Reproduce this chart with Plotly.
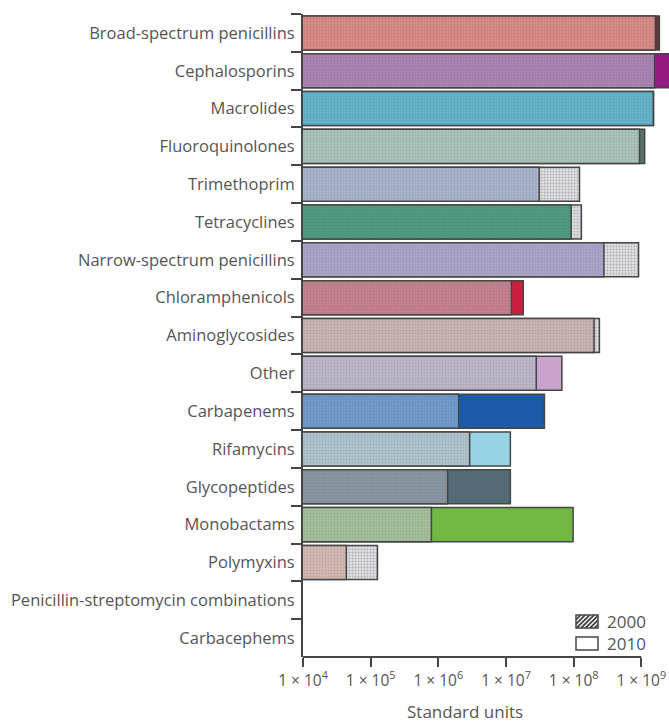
import plotly.graph_objects as go

# Antibiotic classes, top to bottom
categories = [
    "Broad-spectrum penicillins", "Cephalosporins", "Macrolides", "Fluoroquinolones",
    "Trimethoprim", "Tetracyclines", "Narrow-spectrum penicillins", "Chloramphenicols",
    "Aminoglycosides", "Other", "Carbapenems", "Rifamycins", "Glycopeptides",
    "Monobactams", "Polymyxins", "Penicillin-streptomycin combinations", "Carbacephems",
]

# Consumption in standard units
units_2000 = [1.61e9, 1.57e9, 1.50e9, 9.4e8, 1.22e8, 1.30e8, 9.1e8, 1.20e7, 2.40e8,
              2.80e7, 2.00e6, 2.90e6, 1.37e6, 7.9e5, 1.26e5, None, None]
units_2010 = [1.85e9, 3.00e9, 1.52e9, 1.12e9, 3.10e7, 9.20e7, 2.80e8, 1.80e7, 2.00e8,
              6.70e7, 3.70e7, 1.16e7, 1.16e7, 9.8e7, 4.37e4, None, None]

# Class colours: pale tone for the shared part, strong tone for growth to 2010
base_colours = ["#d98b87", "#ab84b3", "#62b5cc", "#a9c3bb", "#a9b5ca", "#4f9b82",
                "#aca5ca", "#c77f90", "#c9b4b4", "#bdb7c9", "#6f9bcb", "#aec4ce",
                "#8996a1", "#a5c19c", "#d3b9b1", "#cccccc", "#cccccc"]
growth_colours = ["#5e3b38", "#931b80", "#3f8599", "#5c716a", "#a9b5ca", "#4f9b82",
                  "#aca5ca", "#c8213f", "#c9b4b4", "#caa3cc", "#1a5aa6", "#97d3e5",
                  "#546a74", "#72b844", "#d3b9b1", "#cccccc", "#cccccc"]
decline_colour = "#dddee1"
tick_values = [1e4, 1e5, 1e6, 1e7, 1e8, 1e9]
tick_labels = ["1 × 10<sup>%d</sup>" % p for p in range(4, 10)]
legend_years = ["2000", "2010"]

ink = "#454545"
text_col = "#555555"
font_family = "Open Sans, Lato, sans-serif"

W, H = 669, 725
M_L, M_R, M_T, M_B = 303, 0, 14, 68
PW, PH = W - M_L - M_R, H - M_T - M_B


def px_x(x):
    return (x - M_L) / PW


def px_y(y):
    return (H - M_B - y) / PH


back_x, back_col, back_pat = [], [], []
front_x = []
for a, b, g in zip(units_2000, units_2010, growth_colours):
    if a is None or b is None:
        back_x.append(None); back_col.append(decline_colour); back_pat.append("")
        front_x.append(None)
        continue
    back_x.append(max(a, b))
    front_x.append(min(a, b))
    if b >= a:
        back_col.append(g); back_pat.append("")
    else:
        back_col.append(decline_colour); back_pat.append(".")

fig = go.Figure()

# Longer of the two years (growth in solid colour, decline hatched grey)
fig.add_trace(go.Bar(
    y=categories, x=back_x, orientation="h", width=0.9, showlegend=False,
    marker=dict(color=back_col, line=dict(color=ink, width=1.5),
                pattern=dict(shape=back_pat, fgcolor="#666666", fgopacity=0.3,
                             size=3, solidity=0.3)),
    hoverinfo="skip",
))
# Shorter of the two years, pale class colour
fig.add_trace(go.Bar(
    y=categories, x=front_x, orientation="h", width=0.9, showlegend=False,
    marker=dict(color=base_colours, line=dict(color=ink, width=1.5),
                pattern=dict(shape=".", fgcolor="#555555", fgopacity=0.16,
                             size=3, solidity=0.3)),
    hoverinfo="skip",
))

fig.update_layout(
    width=W, height=H,
    margin=dict(l=M_L, r=M_R, t=M_T, b=M_B),
    paper_bgcolor="white", plot_bgcolor="white",
    barmode="overlay", showlegend=False,
    font=dict(family=font_family, size=13, color=text_col),
    xaxis=dict(type="log", range=[4, 9.409], tickvals=tick_values, ticktext=tick_labels,
               ticks="outside", ticklen=9, tickwidth=1.5, tickcolor=ink,
               showline=False, showgrid=False, zeroline=False,
               tickfont=dict(size=15.5, color=text_col)),
    yaxis=dict(type="category", categoryorder="array", categoryarray=categories,
               autorange="reversed", tickson="boundaries", ticks="outside",
               ticklen=10, tickwidth=1.5, tickcolor=ink, ticklabelstandoff=3,
               showline=True, linecolor=ink, linewidth=2, showgrid=False,
               tickfont=dict(size=16.5, color=text_col)),
)

# Horizontal axis line spanning the labelled decades
fig.add_shape(type="line", xref="x", yref="paper", x0=1e4, x1=1e9, y0=0, y1=0,
              line=dict(color=ink, width=2))

fig.add_annotation(text="Standard units", xref="paper", yref="paper",
                   x=px_x(465), y=px_y(711), xanchor="center", yanchor="middle",
                   showarrow=False, font=dict(size=17, color=text_col))

# Year key: hatched box for 2000, open box for 2010
key_x0, key_x1 = 576, 598
key_rows = [(615, 628), (637, 650)]
for i, (year, (ky0, ky1)) in enumerate(zip(legend_years, key_rows)):
    fig.add_shape(type="rect", xref="paper", yref="paper",
                  x0=px_x(key_x0), x1=px_x(key_x1), y0=px_y(ky1), y1=px_y(ky0),
                  line=dict(color=ink, width=1.5), fillcolor="white")
    if i == 0:
        # diagonal hatching clipped to the box
        h = ky1 - ky0
        path = []
        step = 4.5
        s = key_x0 - h
        while s < key_x1:
            xa, ya = s, ky1
            xb, yb = s + h, ky0
            if xa < key_x0:
                ya = ky1 - (key_x0 - xa); xa = key_x0
            if xb > key_x1:
                yb = ky0 + (xb - key_x1); xb = key_x1
            if xb > xa:
                path.append("M%.4f,%.4f L%.4f,%.4f" % (px_x(xa), px_y(ya), px_x(xb), px_y(yb)))
            s += step
        fig.add_shape(type="path", xref="paper", yref="paper", path=" ".join(path),
                      line=dict(color=ink, width=1.8))
    fig.add_annotation(text=year, xref="paper", yref="paper",
                       x=px_x(605), y=px_y((ky0 + ky1) / 2), xanchor="left",
                       yanchor="middle", showarrow=False,
                       font=dict(size=17, color=text_col))

fig.write_html("out.html")
